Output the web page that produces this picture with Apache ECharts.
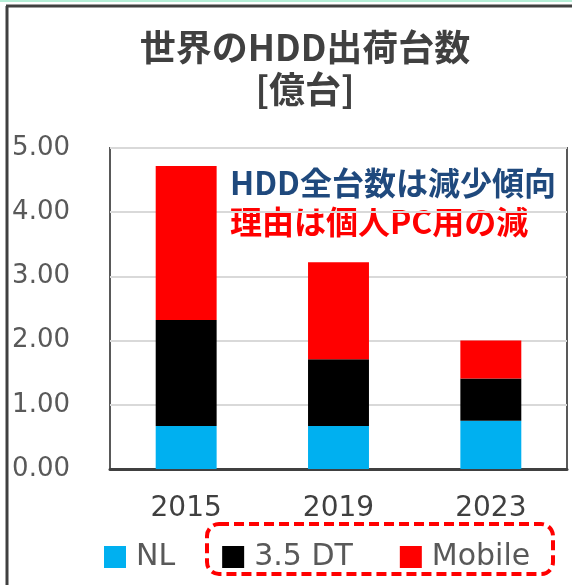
<!DOCTYPE html>
<html>
<head>
<meta charset="utf-8">
<script src="https://cdn.jsdelivr.net/npm/echarts@6/dist/echarts.min.js"></script>
<style>
  html, body { margin: 0; padding: 0; background: #fff; }
  #chart { width: 572px; height: 585px; }
</style>
</head>
<body>
<div id="chart"></div>
<script>
const years = ['2015', '2019', '2023'];
const nl = [0.67, 0.67, 0.75];
const dt35 = [1.65, 1.04, 0.66];
const mobile = [2.40, 1.51, 0.59];
const seriesNames = ['NL', '3.5 DT', 'Mobile'];
const seriesColors = ['#00B0F0', '#000000', '#FF0000'];

const chart = echarts.init(document.getElementById('chart'));
const latin = '"DejaVu Sans", Verdana, sans-serif';
const cjk = '"Noto Sans CJK JP", "Noto Sans", sans-serif';

chart.setOption({
  animation: false,
  legend: {
    left: 99,
    top: 537,
    itemWidth: 22,
    itemHeight: 22,
    itemGap: 47,
    icon: 'rect',
    textStyle: { fontSize: 30, lineHeight: 30, color: '#595959', fontFamily: latin, padding: [0, 0, 0, 5] },
    data: seriesNames
  },
  grid: { left: 110, right: 5, top: 148, bottom: 116, show: true, borderColor: '#595959', borderWidth: 2 },
  xAxis: {
    type: 'category', data: years,
    axisLine: { lineStyle: { color: '#404040', width: 3 } },
    axisTick: { show: false },
    axisLabel: { fontSize: 28, color: '#404040', fontFamily: latin, margin: 26 }
  },
  yAxis: {
    type: 'value', min: 0, max: 5, interval: 1,
    axisLine: { show: false }, axisTick: { show: false },
    axisLabel: {
      fontSize: 26, color: '#595959', fontFamily: latin, margin: 40,
      formatter: v => v.toFixed(2)
    },
    splitLine: { lineStyle: { color: '#D9D9D9', width: 2 } }
  },
  series: [nl, dt35, mobile].map((d, i) => ({
    name: seriesNames[i],
    type: 'bar',
    stack: 'total',
    barWidth: '40%',
    itemStyle: { color: seriesColors[i] },
    data: d
  })),
  graphic: [
    { type: 'rect', shape: { x: 0, y: 0, width: 572, height: 2 }, style: { fill: '#B4EED6' } },
    { type: 'line', shape: { x1: 7, y1: 6, x2: 7, y2: 585 }, style: { stroke: '#404040', lineWidth: 3 } },
    { type: 'line', shape: { x1: 6, y1: 6, x2: 572, y2: 6 }, style: { stroke: '#404040', lineWidth: 3 } },
    {
      type: 'text', x: 305, y: 26,
      style: {
        text: '世界のHDD出荷台数\n[億台]', align: 'center', verticalAlign: 'top', lineHeight: 42,
        font: 'bold 36px ' + cjk, fill: '#404040'
      }
    },
    {
      type: 'text', x: 230, y: 167,
      style: { text: 'HDD全台数は減少傾向', font: 'bold 32px ' + cjk, fill: '#1F497D', verticalAlign: 'top', lineHeight: 32 }
    },
    {
      type: 'text', x: 230, y: 206,
      style: { text: '理由は個人PC用の減', font: 'bold 32px ' + cjk, fill: '#FF0000', verticalAlign: 'top', lineHeight: 32 }
    },
    {
      type: 'rect', shape: { x: 207, y: 524, width: 346, height: 50, r: 12 },
      style: { fill: 'none', stroke: '#FF0000', lineWidth: 4, lineDash: [10, 5] }
    }
  ]
});
</script>
</body>
</html>
